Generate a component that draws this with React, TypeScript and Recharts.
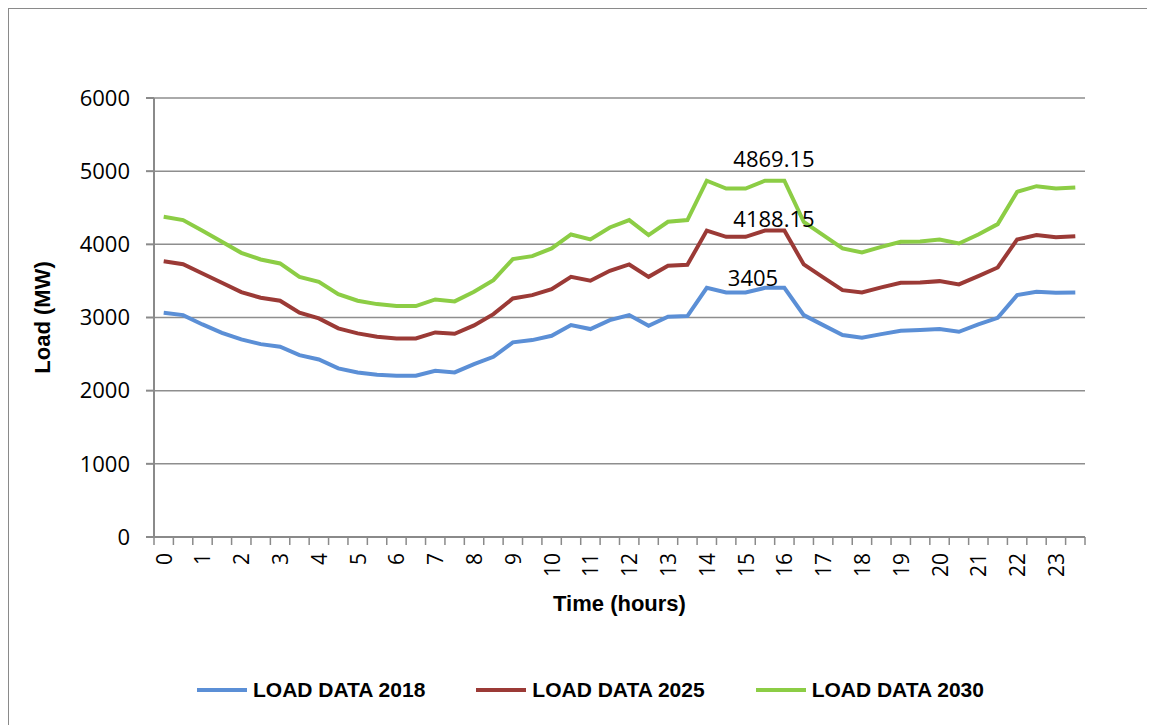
import { CartesianGrid, Legend, Line, LineChart, XAxis, YAxis } from "recharts";

// half-hour slots, labelled every full hour
const slots = [
  0, 0.5, 1, 1.5, 2, 2.5, 3, 3.5, 4, 4.5, 5, 5.5, 6, 6.5, 7, 7.5, 8, 8.5, 9, 9.5, 10, 10.5, 11, 11.5,
  12, 12.5, 13, 13.5, 14, 14.5, 15, 15.5, 16, 16.5, 17, 17.5, 18, 18.5, 19, 19.5, 20, 20.5, 21, 21.5,
  22, 22.5, 23, 23.5,
];

const load2018 = [
  3065, 3033, 2905, 2791, 2700, 2636, 2600, 2486, 2427, 2304, 2249, 2217, 2204, 2204, 2272, 2249,
  2363, 2463, 2660, 2691, 2750, 2896, 2842, 2965, 3033, 2887, 3010, 3019, 3405, 3342, 3342, 3405,
  3405, 3033, 2896, 2760, 2723, 2773, 2819, 2828, 2842, 2805, 2905, 2996, 3306, 3352, 3338, 3342,
];

const load2025 = [
  3770, 3729, 3602, 3475, 3347, 3270, 3229, 3065, 2987, 2851, 2783, 2737, 2714, 2714, 2796, 2778,
  2892, 3046, 3260, 3306, 3388, 3556, 3502, 3638, 3725, 3556, 3707, 3720, 4188.15, 4103, 4103, 4188.15,
  4188.15, 3725, 3548, 3374, 3342, 3411, 3475, 3479, 3497, 3452, 3566, 3684, 4067, 4126, 4098, 4112,
];

const load2030 = [
  4376, 4331, 4184, 4034, 3884, 3793, 3739, 3556, 3488, 3320, 3229, 3183, 3156, 3156, 3247, 3220,
  3352, 3511, 3798, 3839, 3944, 4135, 4067, 4231, 4331, 4126, 4308, 4331, 4869.15, 4763, 4763, 4869.15,
  4869.15, 4308, 4126, 3944, 3889, 3966, 4034, 4040, 4067, 4012, 4135, 4276, 4717, 4795, 4763, 4777,
];

const yTicks = [0, 1000, 2000, 3000, 4000, 5000, 6000];

const series = [
  { key: "l2018", name: "LOAD DATA 2018", color: "#5b8fd6", values: load2018, labelDx: -12, labelDy: -2 },
  { key: "l2025", name: "LOAD DATA 2025", color: "#9b3a36", values: load2025, labelDx: 9, labelDy: -4 },
  { key: "l2030", name: "LOAD DATA 2030", color: "#8ccd45", values: load2030, labelDx: 9, labelDy: -14 },
];

const LABEL_INDEX = 31;

const data = slots.map((s, i) => ({
  slot: s,
  l2018: load2018[i],
  l2025: load2025[i],
  l2030: load2030[i],
}));

const CHART_W = 1138;
const CHART_H = 720;
const Y_AXIS_W = 145;
const MARGIN = { top: 89, right: 62, bottom: 112, left: 0 };
const STEP = (CHART_W - MARGIN.right - MARGIN.left - Y_AXIS_W) / slots.length;
const AXIS_GRAY = "#8a8a8a";
const TICK_FONT = "'Open Sans', sans-serif";
const BOLD_FONT = "'Liberation Sans', Arial, sans-serif";

function HourTick(props: any) {
  const { x, y, index, payload } = props;
  const left = x - STEP / 2;
  const ty = y + 16;
  const showLabel = index % 2 === 0;
  return (
    <g>
      <line x1={left} y1={y} x2={left} y2={y + 8} stroke={AXIS_GRAY} strokeWidth={1.5} />
      {index === slots.length - 1 && (
        <line x1={x + STEP / 2} y1={y} x2={x + STEP / 2} y2={y + 8} stroke={AXIS_GRAY} strokeWidth={1.5} />
      )}
      {showLabel && (
        <text
          x={x}
          y={ty}
          transform={`rotate(-90, ${x}, ${ty})`}
          textAnchor="end"
          dominantBaseline="central"
          fontFamily={TICK_FONT}
          fontSize={21}
          fill="#000"
        >
          {String(payload.value)}
        </text>
      )}
    </g>
  );
}

function peakLabel(dx: number, dy: number) {
  return (props: any) => {
    const { x, y, index, value } = props;
    if (index !== LABEL_INDEX) return null;
    return (
      <text x={x + dx} y={y + dy} textAnchor="middle" fontFamily={TICK_FONT} fontSize={22} fill="#000">
        {String(value)}
      </text>
    );
  };
}

function LegendContent() {
  return (
    <div style={{ display: "flex", alignItems: "center" }}>
      {series.map((s) => (
        <div key={s.key} style={{ display: "flex", alignItems: "center", marginRight: 51 }}>
          <div style={{ width: 50, height: 4, background: s.color, marginRight: 6 }} />
          <span style={{ fontFamily: BOLD_FONT, fontWeight: "bold", fontSize: 21, color: "#000" }}>{s.name}</span>
        </div>
      ))}
    </div>
  );
}

export default function App() {
  return (
    <div style={{ width: 1138, height: 730, border: `1.5px solid ${AXIS_GRAY}`, background: "#fff" }}>
      <LineChart width={CHART_W} height={CHART_H} data={data} margin={MARGIN}>
        <CartesianGrid vertical={false} stroke="#8e8e8e" strokeWidth={1.5} />
        <XAxis
          dataKey="slot"
          type="category"
          interval={0}
          padding={{ left: STEP / 2, right: STEP / 2 }}
          tickLine={false}
          tickSize={0}
          tickMargin={0}
          height={80}
          axisLine={{ stroke: AXIS_GRAY, strokeWidth: 2 }}
          tick={(p: any) => <HourTick {...p} />}
          label={{
            content: (p: any) => {
              const vb = p.viewBox;
              return (
                <text
                  x={vb.x + vb.width / 2}
                  y={vb.y + 74}
                  textAnchor="middle"
                  fontFamily={BOLD_FONT}
                  fontWeight="bold"
                  fontSize={22}
                  fill="#000"
                >
                  Time (hours)
                </text>
              );
            },
          }}
        />
        <YAxis
          width={Y_AXIS_W}
          domain={[0, 6000]}
          ticks={yTicks}
          interval={0}
          tickSize={8}
          tickMargin={16}
          tickLine={{ stroke: AXIS_GRAY, strokeWidth: 2 }}
          axisLine={{ stroke: AXIS_GRAY, strokeWidth: 2 }}
          tick={{ fill: "#000", fontSize: 22, fontFamily: TICK_FONT }}
          label={{
            content: (p: any) => {
              const vb = p.viewBox;
              const cx = 33;
              const cy = vb.y + vb.height / 2;
              return (
                <text
                  x={cx}
                  y={cy}
                  transform={`rotate(-90, ${cx}, ${cy})`}
                  textAnchor="middle"
                  dominantBaseline="central"
                  fontFamily={BOLD_FONT}
                  fontWeight="bold"
                  fontSize={22}
                  fill="#000"
                >
                  Load (MW)
                </text>
              );
            },
          }}
        />
        {series.map((s) => (
          <Line
            key={s.key}
            type="linear"
            dataKey={s.key}
            name={s.name}
            stroke={s.color}
            strokeWidth={4}
            dot={false}
            activeDot={false}
            isAnimationActive={false}
            label={peakLabel(s.labelDx, s.labelDy)}
          />
        ))}
        <Legend
          layout="horizontal"
          verticalAlign="middle"
          align="center"
          content={() => <LegendContent />}
          wrapperStyle={{ position: "absolute", top: 669, left: 188, width: 900 }}
        />
      </LineChart>
    </div>
  );
}
